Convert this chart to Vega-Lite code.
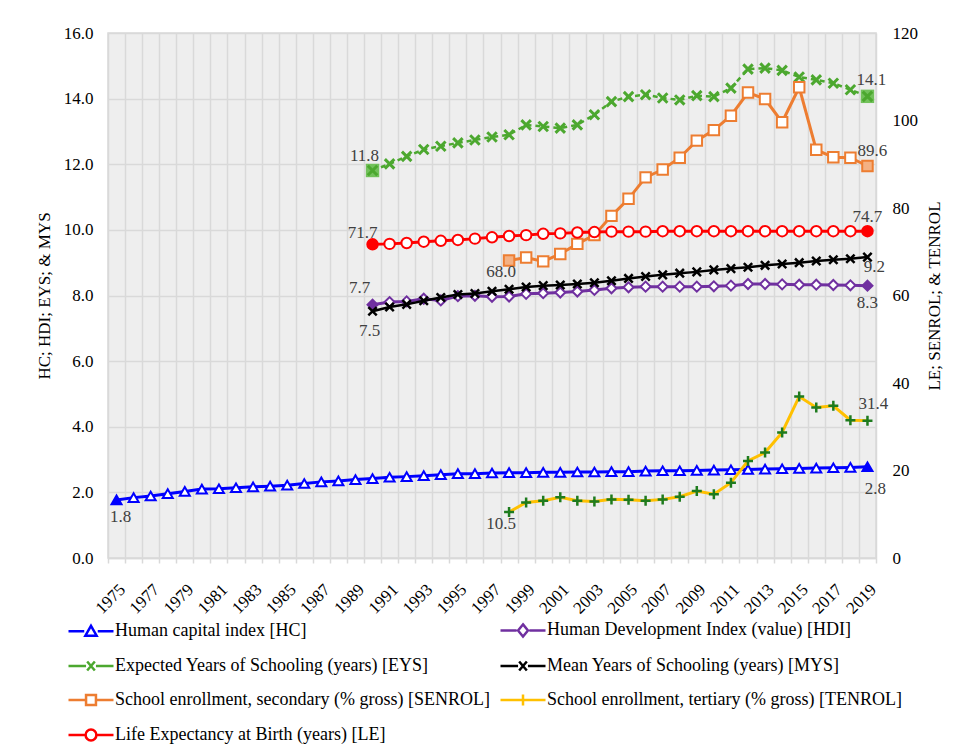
{
  "$schema": "https://vega.github.io/schema/vega-lite/v6.json",
  "width": 768,
  "height": 525,
  "autosize": {"type": "none"},
  "padding": {"left": 108, "top": 33, "right": 85, "bottom": 195},
  "background": "white",
  "config": {
    "font": "Liberation Serif",
    "view": {"fill": "#eeeeee", "stroke": "#d9d9d9", "strokeWidth": 1.5},
    "axis": {"labelFont": "Liberation Serif", "titleFont": "Liberation Serif", "labelFontSize": 17, "titleFontSize": 17, "titleFontWeight": "normal", "labelColor": "#000000", "titleColor": "#000000"},
    "text": {"font": "Liberation Serif", "fontSize": 17, "color": "#404040"}
  },
  "data": {
    "values": [
      {"year": 1975, "HC": 1.77},
      {"year": 1976, "HC": 1.84},
      {"year": 1977, "HC": 1.89},
      {"year": 1978, "HC": 1.96},
      {"year": 1979, "HC": 2.03},
      {"year": 1980, "HC": 2.10},
      {"year": 1981, "HC": 2.11},
      {"year": 1982, "HC": 2.14},
      {"year": 1983, "HC": 2.17},
      {"year": 1984, "HC": 2.19},
      {"year": 1985, "HC": 2.22},
      {"year": 1986, "HC": 2.27},
      {"year": 1987, "HC": 2.32},
      {"year": 1988, "HC": 2.35},
      {"year": 1989, "HC": 2.39},
      {"year": 1990, "HC": 2.42, "HDI": 7.72, "EYS": 11.81, "MYS": 7.52, "LE": 71.7},
      {"year": 1991, "HC": 2.46, "HDI": 7.80, "EYS": 12.01, "MYS": 7.65, "LE": 71.8},
      {"year": 1992, "HC": 2.48, "HDI": 7.82, "EYS": 12.24, "MYS": 7.73, "LE": 72.0},
      {"year": 1993, "HC": 2.51, "HDI": 7.90, "EYS": 12.45, "MYS": 7.84, "LE": 72.3},
      {"year": 1994, "HC": 2.54, "HDI": 7.85, "EYS": 12.55, "MYS": 7.94, "LE": 72.5},
      {"year": 1995, "HC": 2.57, "HDI": 7.98, "EYS": 12.65, "MYS": 8.03, "LE": 72.7},
      {"year": 1996, "HC": 2.57, "HDI": 7.99, "EYS": 12.74, "MYS": 8.06, "LE": 73.0},
      {"year": 1997, "HC": 2.59, "HDI": 7.96, "EYS": 12.83, "MYS": 8.13, "LE": 73.3},
      {"year": 1998, "HC": 2.60, "HDI": 7.97, "EYS": 12.90, "MYS": 8.19, "LE": 73.6, "SENROL": 68.0, "TENROL": 10.5},
      {"year": 1999, "HC": 2.60, "HDI": 8.05, "EYS": 13.20, "MYS": 8.26, "LE": 73.8, "SENROL": 68.7, "TENROL": 12.7},
      {"year": 2000, "HC": 2.61, "HDI": 8.07, "EYS": 13.15, "MYS": 8.30, "LE": 74.1, "SENROL": 67.8, "TENROL": 13.1},
      {"year": 2001, "HC": 2.61, "HDI": 8.09, "EYS": 13.10, "MYS": 8.32, "LE": 74.2, "SENROL": 69.5, "TENROL": 13.9},
      {"year": 2002, "HC": 2.62, "HDI": 8.12, "EYS": 13.20, "MYS": 8.35, "LE": 74.4, "SENROL": 71.8, "TENROL": 13.1},
      {"year": 2003, "HC": 2.62, "HDI": 8.17, "EYS": 13.51, "MYS": 8.39, "LE": 74.5, "SENROL": 73.8, "TENROL": 12.9},
      {"year": 2004, "HC": 2.63, "HDI": 8.22, "EYS": 13.91, "MYS": 8.45, "LE": 74.6, "SENROL": 78.2, "TENROL": 13.4},
      {"year": 2005, "HC": 2.63, "HDI": 8.25, "EYS": 14.06, "MYS": 8.52, "LE": 74.6, "SENROL": 82.1, "TENROL": 13.3},
      {"year": 2006, "HC": 2.65, "HDI": 8.27, "EYS": 14.12, "MYS": 8.58, "LE": 74.6, "SENROL": 87.0, "TENROL": 13.1},
      {"year": 2007, "HC": 2.66, "HDI": 8.27, "EYS": 14.02, "MYS": 8.63, "LE": 74.7, "SENROL": 88.8, "TENROL": 13.4},
      {"year": 2008, "HC": 2.66, "HDI": 8.27, "EYS": 13.96, "MYS": 8.68, "LE": 74.7, "SENROL": 91.5, "TENROL": 14.0},
      {"year": 2009, "HC": 2.67, "HDI": 8.27, "EYS": 14.09, "MYS": 8.72, "LE": 74.7, "SENROL": 95.4, "TENROL": 15.3},
      {"year": 2010, "HC": 2.68, "HDI": 8.28, "EYS": 14.06, "MYS": 8.78, "LE": 74.7, "SENROL": 97.8, "TENROL": 14.6},
      {"year": 2011, "HC": 2.69, "HDI": 8.30, "EYS": 14.32, "MYS": 8.82, "LE": 74.7, "SENROL": 101.1, "TENROL": 17.2},
      {"year": 2012, "HC": 2.70, "HDI": 8.35, "EYS": 14.90, "MYS": 8.86, "LE": 74.7, "SENROL": 106.4, "TENROL": 22.2},
      {"year": 2013, "HC": 2.71, "HDI": 8.35, "EYS": 14.93, "MYS": 8.92, "LE": 74.7, "SENROL": 104.9, "TENROL": 24.1},
      {"year": 2014, "HC": 2.72, "HDI": 8.34, "EYS": 14.86, "MYS": 8.96, "LE": 74.7, "SENROL": 99.6, "TENROL": 28.7},
      {"year": 2015, "HC": 2.73, "HDI": 8.33, "EYS": 14.66, "MYS": 9.00, "LE": 74.7, "SENROL": 107.6, "TENROL": 36.9},
      {"year": 2016, "HC": 2.74, "HDI": 8.33, "EYS": 14.57, "MYS": 9.05, "LE": 74.7, "SENROL": 93.3, "TENROL": 34.4},
      {"year": 2017, "HC": 2.75, "HDI": 8.32, "EYS": 14.47, "MYS": 9.09, "LE": 74.7, "SENROL": 91.6, "TENROL": 34.8},
      {"year": 2018, "HC": 2.76, "HDI": 8.31, "EYS": 14.27, "MYS": 9.12, "LE": 74.7, "SENROL": 91.5, "TENROL": 31.5},
      {"year": 2019, "HC": 2.78, "HDI": 8.30, "EYS": 14.07, "MYS": 9.17, "LE": 74.7, "SENROL": 89.6, "TENROL": 31.4}
    ]
  },
  "transform": [
    {"fold": ["HC", "HDI", "EYS", "MYS", "SENROL", "TENROL", "LE"], "as": ["series", "value"]},
    {"filter": "isValid(datum.value)"},
    {"joinaggregate": [{"op": "min", "field": "year", "as": "first"}], "groupby": ["series"]}
  ],
  "encoding": {
    "x": {
      "field": "year", "type": "ordinal", "bandPosition": 0.5,
      "scale": {"type": "band", "paddingInner": 0, "paddingOuter": 0},
      "axis": {
        "title": null,
        "labelAngle": -45,
        "labelFont": "Liberation Serif",
        "labelFontSize": 17,
        "labelExpr": "datum.value % 2 == 1 ? datum.label : ''",
        "labelOverlap": false,
        "labelPadding": 18,
        "tickBand": "extent",
        "grid": true,
        "gridColor": "#d9d9d9",
        "gridWidth": 1.5,
        "ticks": true,
        "tickColor": "#d9d9d9",
        "tickWidth": 1.5,
        "tickSize": 5,
        "domainColor": "#d9d9d9",
        "domainWidth": 1.5
      }
    }
  },
  "layer": [
    {
      "encoding": {
        "y": {
          "field": "value", "type": "quantitative",
          "scale": {"domain": [0, 16], "nice": false, "zero": true},
          "axis": {
            "title": "HC; HDI; EYS; & MYS",
            "values": [0, 2, 4, 6, 8, 10, 12, 14, 16],
            "format": ".1f",
            "grid": true, "gridColor": "#d9d9d9", "gridWidth": 1.5,
            "domain": false, "ticks": false,
            "labelPadding": 15, "titlePadding": 10
          }
        }
      },
      "layer": [
        {"transform": [{"filter": "datum.series == 'HC'"}], "mark": {"type": "line", "color": "#0000FF", "strokeWidth": 3}},
        {"transform": [{"filter": "datum.series == 'HC'"}], "mark": {"type": "point", "shape": "triangle-up", "filled": true, "size": 100, "stroke": "#0000FF", "strokeWidth": 2, "opacity": 1},
         "encoding": {"fill": {"condition": {"test": "datum.year == datum.first || datum.year == 2019", "value": "#0000FF"}, "value": "white"}}},
        {"transform": [{"filter": "datum.series == 'HDI'"}], "mark": {"type": "line", "color": "#7030A0", "strokeWidth": 3}},
        {"transform": [{"filter": "datum.series == 'HDI'"}], "mark": {"type": "point", "shape": "diamond", "filled": true, "size": 100, "stroke": "#7030A0", "strokeWidth": 2, "opacity": 1},
         "encoding": {"fill": {"condition": {"test": "datum.year == datum.first || datum.year == 2019", "value": "#7030A0"}, "value": "white"}}},
        {"transform": [{"filter": "datum.series == 'EYS'"}], "mark": {"type": "line", "color": "#4CA82F", "strokeWidth": 2.5, "strokeDash": [5, 4]}},
        {"transform": [{"filter": "datum.series == 'EYS' && (datum.year == datum.first || datum.year == 2019)"}], "mark": {"type": "point", "shape": "square", "filled": true, "size": 180, "fill": "#72C15B", "strokeWidth": 0, "opacity": 1}},
        {"transform": [{"filter": "datum.series == 'EYS'"}], "mark": {"type": "point", "shape": "M-1,-1L1,1M-1,1L1,-1", "filled": false, "size": 90, "stroke": "#4CA82F", "strokeWidth": 3, "opacity": 1}},
        {"transform": [{"filter": "datum.series == 'MYS'"}], "mark": {"type": "line", "color": "#000000", "strokeWidth": 2.5}},
        {"transform": [{"filter": "datum.series == 'MYS'"}], "mark": {"type": "point", "shape": "M-1,-1L1,1M-1,1L1,-1", "filled": false, "size": 70, "stroke": "#000000", "strokeWidth": 2.5, "opacity": 1}},
        {"transform": [{"filter": "datum.series == 'EYS' && datum.year == datum.first"}], "mark": {"type": "text", "dx": -8, "dy": -14}, "encoding": {"text": {"field": "value", "format": ".1f"}}},
        {"transform": [{"filter": "datum.series == 'EYS' && datum.year == 2019"}], "mark": {"type": "text", "dx": 4, "dy": -16}, "encoding": {"text": {"field": "value", "format": ".1f"}}},
        {"transform": [{"filter": "datum.series == 'HDI' && datum.year == datum.first"}], "mark": {"type": "text", "dx": -13, "dy": -17}, "encoding": {"text": {"field": "value", "format": ".1f"}}},
        {"transform": [{"filter": "datum.series == 'HDI' && datum.year == 2019"}], "mark": {"type": "text", "dx": 0, "dy": 17}, "encoding": {"text": {"field": "value", "format": ".1f"}}},
        {"transform": [{"filter": "datum.series == 'MYS' && datum.year == datum.first"}], "mark": {"type": "text", "dx": -3, "dy": 20}, "encoding": {"text": {"field": "value", "format": ".1f"}}},
        {"transform": [{"filter": "datum.series == 'MYS' && datum.year == 2019"}], "mark": {"type": "text", "dx": 7, "dy": 10}, "encoding": {"text": {"field": "value", "format": ".1f"}}},
        {"transform": [{"filter": "datum.series == 'HC' && datum.year == datum.first"}], "mark": {"type": "text", "dx": 4, "dy": 17}, "encoding": {"text": {"field": "value", "format": ".1f"}}},
        {"transform": [{"filter": "datum.series == 'HC' && datum.year == 2019"}], "mark": {"type": "text", "dx": 8, "dy": 22}, "encoding": {"text": {"field": "value", "format": ".1f"}}}
      ]
    },
    {
      "encoding": {
        "y": {
          "field": "value", "type": "quantitative",
          "scale": {"domain": [0, 120], "nice": false, "zero": true},
          "axis": {
            "title": "LE; SENROL; & TENROL",
            "orient": "right",
            "titleAngle": 270,
            "values": [0, 20, 40, 60, 80, 100, 120],
            "format": "d",
            "grid": false, "domain": false, "ticks": false,
            "labelPadding": 16, "titlePadding": 26
          }
        }
      },
      "layer": [
        {"transform": [{"filter": "datum.series == 'SENROL'"}], "mark": {"type": "line", "color": "#ED7D31", "strokeWidth": 3}},
        {"transform": [{"filter": "datum.series == 'SENROL'"}], "mark": {"type": "point", "shape": "square", "filled": true, "size": 110, "stroke": "#ED7D31", "strokeWidth": 2, "opacity": 1},
         "encoding": {"fill": {"condition": {"test": "datum.year == datum.first || datum.year == 2019", "value": "#F4B183"}, "value": "white"}}},
        {"transform": [{"filter": "datum.series == 'TENROL'"}], "mark": {"type": "line", "color": "#FFC000", "strokeWidth": 3}},
        {"transform": [{"filter": "datum.series == 'TENROL'"}], "mark": {"type": "point", "shape": "M-1,0L1,0M0,-1L0,1", "filled": false, "size": 100, "stroke": "#1E7B1E", "strokeWidth": 2.5, "opacity": 1}},
        {"transform": [{"filter": "datum.series == 'LE'"}], "mark": {"type": "line", "color": "#FF0000", "strokeWidth": 3}},
        {"transform": [{"filter": "datum.series == 'LE'"}], "mark": {"type": "point", "shape": "circle", "filled": true, "size": 110, "stroke": "#FF0000", "strokeWidth": 2, "opacity": 1},
         "encoding": {"fill": {"condition": {"test": "datum.year == datum.first || datum.year == 2019", "value": "#FF0000"}, "value": "white"}}},
        {"transform": [{"filter": "datum.series == 'LE' && datum.year == datum.first"}], "mark": {"type": "text", "dx": -10, "dy": -11}, "encoding": {"text": {"field": "value", "format": ".1f"}}},
        {"transform": [{"filter": "datum.series == 'LE' && datum.year == 2019"}], "mark": {"type": "text", "dx": 0, "dy": -14}, "encoding": {"text": {"field": "value", "format": ".1f"}}},
        {"transform": [{"filter": "datum.series == 'SENROL' && datum.year == datum.first"}], "mark": {"type": "text", "dx": -8, "dy": 11}, "encoding": {"text": {"field": "value", "format": ".1f"}}},
        {"transform": [{"filter": "datum.series == 'SENROL' && datum.year == 2019"}], "mark": {"type": "text", "dx": 5, "dy": -15}, "encoding": {"text": {"field": "value", "format": ".1f"}}},
        {"transform": [{"filter": "datum.series == 'TENROL' && datum.year == datum.first"}], "mark": {"type": "text", "dx": -8, "dy": 12}, "encoding": {"text": {"field": "value", "format": ".1f"}}},
        {"transform": [{"filter": "datum.series == 'TENROL' && datum.year == 2019"}], "mark": {"type": "text", "dx": 6, "dy": -17}, "encoding": {"text": {"field": "value", "format": ".1f"}}}
      ]
    },
    {
      "mark": {"type": "point", "filled": false, "opacity": 0, "strokeWidth": 2.5},
      "encoding": {
        "color": {
          "field": "series", "type": "nominal",
          "scale": {"domain": ["HC", "HDI", "EYS", "MYS", "SENROL", "TENROL", "LE"], "range": ["#0000FF", "#7030A0", "#4CA82F", "#000000", "#ED7D31", "#FFC000", "#FF0000"]},
          "legend": {
            "title": null, "orient": "none", "legendX": -41, "legendY": 573, "direction": "horizontal",
            "columns": 2, "columnPadding": 5, "rowPadding": 0, "padding": 0,
            "symbolSize": 2025, "symbolStrokeWidth": 2.5, "symbolOpacity": 1,
            "labelFont": "Liberation Serif", "labelFontSize": 18, "labelColor": "#000000", "labelOffset": 0, "labelLimit": 600,
            "labelExpr": "{'HC': 'Human capital index [HC]', 'HDI': 'Human Development Index (value) [HDI]', 'EYS': 'Expected Years of Schooling (years) [EYS]', 'MYS': 'Mean Years of Schooling (years) [MYS]', 'SENROL': 'School enrollment, secondary (% gross) [SENROL]', 'TENROL': 'School enrollment, tertiary (% gross) [TENROL]', 'LE': 'Life Expectancy at Birth (years) [LE]'}[datum.label]"
          }
        },
        "shape": {
          "field": "series", "type": "nominal",
          "scale": {"domain": ["HC", "HDI", "EYS", "MYS", "SENROL", "TENROL", "LE"], "range": [
            "M-1,0L-0.3,0M0.3,0L1,0M0,-0.24L0.25,0.2L-0.25,0.2Z",
            "M-1,0L-0.28,0M0.28,0L1,0M0,-0.27L0.22,0L0,0.27L-0.22,0Z",
            "M-1,0L-0.22,0M0.22,0L1,0M-0.17,-0.2L0.17,0.2M-0.17,0.2L0.17,-0.2",
            "M-1,0L-0.22,0M0.22,0L1,0M-0.17,-0.2L0.17,0.2M-0.17,0.2L0.17,-0.2",
            "M-1,0L-0.25,0M0.25,0L1,0M-0.22,-0.22L0.22,-0.22L0.22,0.22L-0.22,0.22Z",
            "M-1,0L1,0M0,-0.24L0,0.24",
            "M-1,0L-0.27,0M0.27,0L1,0M-0.24,0A0.24,0.24,0,1,0,0.24,0A0.24,0.24,0,1,0,-0.24,0Z"
          ]},
          "legend": {
            "title": null, "orient": "none", "legendX": -41, "legendY": 573, "direction": "horizontal",
            "columns": 2, "columnPadding": 5, "rowPadding": 0, "padding": 0,
            "symbolSize": 2025, "symbolStrokeWidth": 2.5, "symbolOpacity": 1,
            "labelFont": "Liberation Serif", "labelFontSize": 18, "labelColor": "#000000", "labelOffset": 0, "labelLimit": 600,
            "labelExpr": "{'HC': 'Human capital index [HC]', 'HDI': 'Human Development Index (value) [HDI]', 'EYS': 'Expected Years of Schooling (years) [EYS]', 'MYS': 'Mean Years of Schooling (years) [MYS]', 'SENROL': 'School enrollment, secondary (% gross) [SENROL]', 'TENROL': 'School enrollment, tertiary (% gross) [TENROL]', 'LE': 'Life Expectancy at Birth (years) [LE]'}[datum.label]"
          }
        }
      }
    }
  ],
  "resolve": {"scale": {"y": "independent"}}
}
